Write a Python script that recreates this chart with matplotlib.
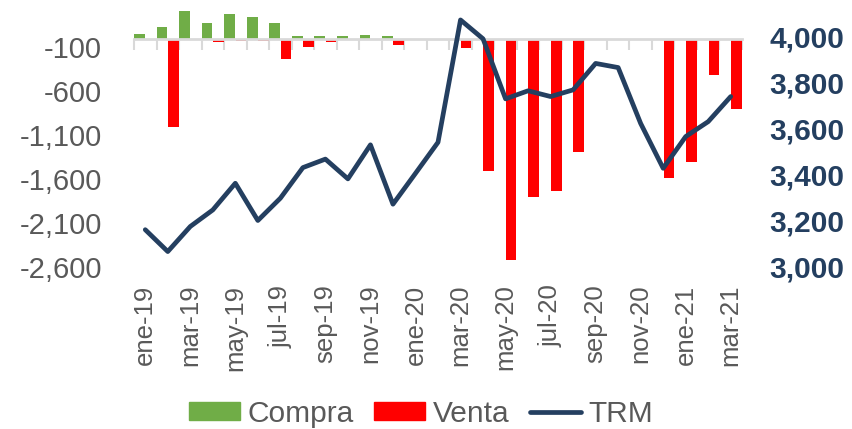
import matplotlib
matplotlib.use('Agg')
import matplotlib.pyplot as plt
from matplotlib.ticker import FuncFormatter, FixedLocator
from matplotlib.patches import Patch
from matplotlib.lines import Line2D
import numpy as np

months = ["ene-19", "feb-19", "mar-19", "abr-19", "may-19", "jun-19", "jul-19",
          "ago-19", "sep-19", "oct-19", "nov-19", "dic-19", "ene-20", "feb-20",
          "mar-20", "abr-20", "may-20", "jun-20", "jul-20", "ago-20", "sep-20",
          "oct-20", "nov-20", "dic-20", "ene-21", "feb-21", "mar-21"]
compra = [55, 135, 318, 181, 287, 245, 177, 29, 36, 29, 48, 36, 0, 0,
          0, 0, 0, 0, 0, 0, 0, 0, 0, 0, 0, 0, 0]
venta = [0, -1007, -10, -32, -29, -29, -226, -97, -32, 0, 0, -67, 0, 0,
         -110, -1509, -2521, -1802, -1733, -1296, -10, -10, -20, -1589, -1406, -417, -805]
trm = [3160, 3065, 3174, 3246, 3362, 3200, 3297, 3430, 3467, 3381, 3529, 3271, 3405, 3540,
       4072, 3990, 3729, 3764, 3739, 3768, 3883, 3865, 3622, 3427, 3565, 3630, 3739]
left_ticks = [-2600, -2100, -1600, -1100, -600, -100]
right_ticks = [3000, 3200, 3400, 3600, 3800, 4000]

GREEN = "#70AD47"
RED = "#FF0000"
NAVY = "#243F60"
GRAY = "#595959"
AXGRAY = "#D9D9D9"

plt.rcParams['font.family'] = ['Liberation Sans', 'DejaVu Sans']

W, H = 852, 429
fig = plt.figure(figsize=(W / 100, H / 100), dpi=100)
x0, x1, ytop, ybot = 134, 742, 5, 266.5
ax = fig.add_axes([x0 / W, 1 - ybot / H, (x1 - x0) / W, (ybot - ytop) / H])

x = np.arange(len(months))
ax.bar(x - 0.25, compra, width=0.47, color=GREEN, zorder=2)
ax.bar(x + 0.25, venta, width=0.47, color=RED, zorder=2)
ax.set_xlim(-0.5, len(months) - 0.5)
ax.set_ylim(-2600, 385)
ax.set_yticks(left_ticks)
ax.yaxis.set_major_formatter(FuncFormatter(lambda v, p: f"{int(v):,}"))
ax.tick_params(axis='y', length=0, pad=23, labelsize=21, colors=GRAY)

for s in ['left', 'right', 'bottom']:
    ax.spines[s].set_visible(False)
ax.spines['top'].set_position(('data', 0))
ax.spines['top'].set_color(AXGRAY)
ax.spines['top'].set_linewidth(2)
ax.spines['top'].set_zorder(3)

ax.set_xticks(x[::2])
ax.set_xticklabels(months[::2], rotation=90)
ax.xaxis.set_minor_locator(FixedLocator(np.arange(-0.5, len(months), 1.0)))
ax.tick_params(axis='x', which='major', length=0, pad=13, labelsize=18.5, colors=GRAY,
               bottom=True, top=False)
ax.tick_params(axis='x', which='minor', bottom=False, top=True, direction='in',
               length=8, width=1.5, color=AXGRAY)

ax2 = ax.twinx()
ax2.plot(x, trm, color=NAVY, lw=3.4, solid_capstyle='round', solid_joinstyle='round', zorder=4)
ax2.set_ylim(3000, 4137)
ax2.set_yticks(right_ticks)
ax2.yaxis.set_major_formatter(FuncFormatter(lambda v, p: f"{int(v):,}"))
ax2.tick_params(axis='y', length=0, pad=20, labelsize=21.5, colors=NAVY)
for lbl in ax2.get_yticklabels():
    lbl.set_fontweight('bold')
for s in ['left', 'right', 'bottom', 'top']:
    ax2.spines[s].set_visible(False)

handles = [Patch(color=GREEN, label="Compra"), Patch(color=RED, label="Venta"),
           Line2D([], [], color=NAVY, lw=3.4, solid_capstyle='round', label="TRM")]
leg = fig.legend(handles=handles, loc='center', bbox_to_anchor=(0.494, 1 - 414 / H),
                 ncol=3, frameon=False, fontsize=21.5, handlelength=1.7, handleheight=0.55,
                 handletextpad=0.25, columnspacing=0.7, borderaxespad=0)
for t in leg.get_texts():
    t.set_color(GRAY)

fig.savefig("out.png", dpi=100)
